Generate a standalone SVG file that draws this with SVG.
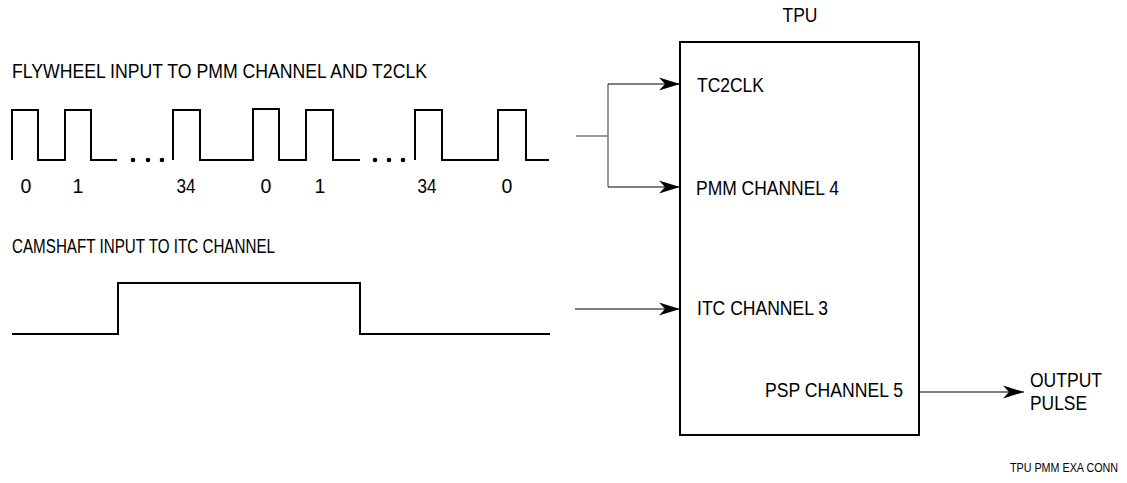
<svg xmlns="http://www.w3.org/2000/svg" width="1127" height="483" viewBox="0 0 1127 483">
<style>
text{font-family:"Liberation Sans",Arial,sans-serif;font-size:19.5px;fill:#000}
.wave{fill:none;stroke:#000;stroke-width:2}
.conn{fill:none;stroke:#000;stroke-width:1.2}
.fork{fill:none;stroke:#777;stroke-width:1.5}
.small{font-size:12px}
.mid{text-anchor:middle}
</style>
<defs>
<marker id="arr" viewBox="0 0 21 14" refX="21" refY="7" markerWidth="21" markerHeight="14" markerUnits="userSpaceOnUse" orient="auto">
<path d="M0,0.5 L21,7 L0,13.5 L6,7 Z" fill="#000"/>
</marker>
</defs>
<g id="flywheel">
<text x="12" y="78" textLength="415" lengthAdjust="spacingAndGlyphs">FLYWHEEL INPUT TO PMM CHANNEL AND T2CLK</text>
<path class="wave" d="M12,160 V110 H38 V160 H65 V110 H91 V160 H117"/>
<path class="wave" d="M173,160 V110 H200 V160 H253 V109 H279 V160 H306 V110 H333 V160 H360"/>
<path class="wave" d="M415,160 V110 H442 V160 H498 V110 H526 V160 H549"/>
<circle cx="133" cy="160" r="2.3"/><circle cx="148" cy="160" r="2.3"/><circle cx="162" cy="160" r="2.3"/>
<circle cx="375" cy="160" r="2.3"/><circle cx="389" cy="160" r="2.3"/><circle cx="403" cy="160" r="2.3"/>
<text class="mid" x="26" y="193">0</text>
<text class="mid" x="78" y="193">1</text>
<text class="mid" x="186" y="193" textLength="19" lengthAdjust="spacingAndGlyphs">34</text>
<text class="mid" x="266" y="193">0</text>
<text class="mid" x="320" y="193">1</text>
<text class="mid" x="427" y="193" textLength="19" lengthAdjust="spacingAndGlyphs">34</text>
<text class="mid" x="507" y="193">0</text>
</g>
<g id="camshaft">
<text x="12" y="253" textLength="263" lengthAdjust="spacingAndGlyphs">CAMSHAFT INPUT TO ITC CHANNEL</text>
<path class="wave" d="M12,334 H118 V283 H360 V334 H550"/>
</g>
<g id="tpu">
<text class="mid" x="800" y="22" textLength="35" lengthAdjust="spacingAndGlyphs">TPU</text>
<rect x="680" y="42" width="239" height="393" fill="none" stroke="#000" stroke-width="2"/>
<text x="697" y="92" textLength="67" lengthAdjust="spacingAndGlyphs">TC2CLK</text>
<text x="696" y="195" textLength="143" lengthAdjust="spacingAndGlyphs">PMM CHANNEL 4</text>
<text x="697" y="315" textLength="131" lengthAdjust="spacingAndGlyphs">ITC CHANNEL 3</text>
<text x="765" y="397" textLength="138" lengthAdjust="spacingAndGlyphs">PSP CHANNEL 5</text>
</g>
<g id="output">
<text x="1030" y="387" textLength="72" lengthAdjust="spacingAndGlyphs">OUTPUT</text>
<text x="1030" y="410" textLength="57" lengthAdjust="spacingAndGlyphs">PULSE</text>
</g>
<g id="connectors">
<path class="fork" d="M576,136 H608 M608,84 V187"/>
<path class="conn" d="M608,84 H680" marker-end="url(#arr)"/>
<path class="conn" d="M608,187 H680" marker-end="url(#arr)"/>
<path class="conn" d="M575,309 H680" marker-end="url(#arr)"/>
<path class="conn" d="M919,392 H1024" marker-end="url(#arr)"/>
</g>
<text class="small" x="1010" y="472" textLength="108" lengthAdjust="spacingAndGlyphs">TPU PMM EXA CONN</text>
</svg>
